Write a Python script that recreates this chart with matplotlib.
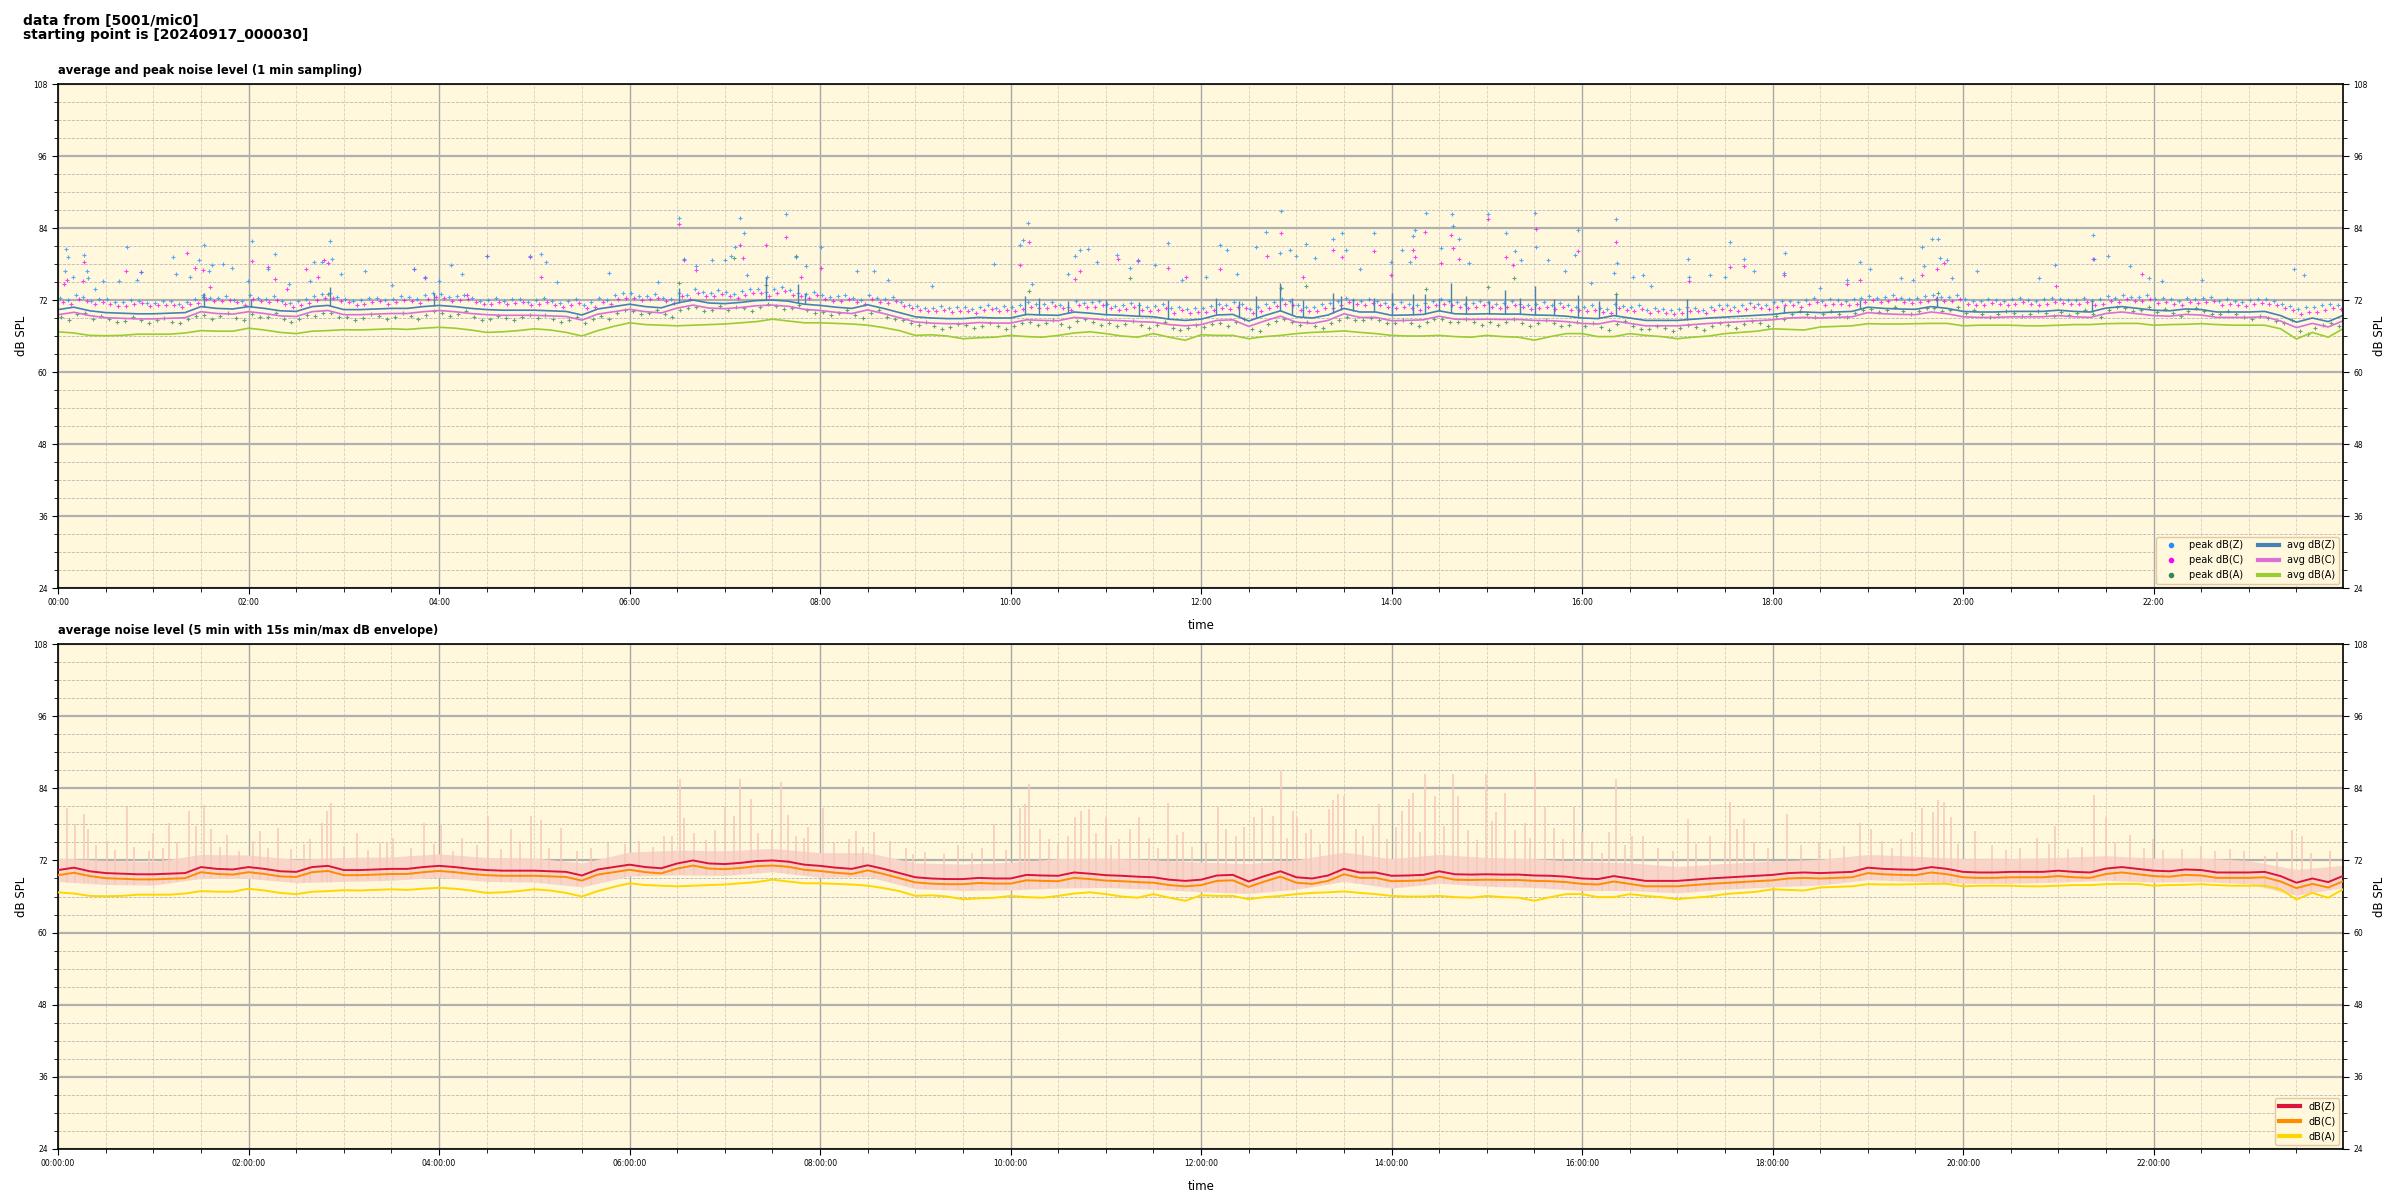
import numpy as np
import pandas as pd
import matplotlib
matplotlib.use('Agg')
import matplotlib.pyplot as plt
import matplotlib.dates as mdates
from matplotlib.ticker import MultipleLocator
from matplotlib.lines import Line2D

# average levels, read every 10 min from 00:00 to 24:00 (one row per hour)
avg_z = [70.4, 70.8, 70.2, 69.9, 69.8, 69.7,
         69.7, 69.8, 69.9, 70.9, 70.6, 70.5,
         70.9, 70.6, 70.2, 70.1, 70.9, 71.1,
         70.4, 70.4, 70.5, 70.6, 70.6, 70.9,
         71.1, 70.9, 70.6, 70.4, 70.3, 70.3,
         70.3, 70.2, 70.1, 69.5, 70.5, 70.9,
         71.3, 70.9, 70.7, 71.5, 72.0, 71.5,
         71.4, 71.6, 71.9, 72.0, 71.8, 71.3,
         71.1, 70.8, 70.6, 71.2, 70.6, 69.9,
         69.2, 69.0, 68.9, 68.9, 69.1, 69.0,
         69.0, 69.6, 69.5, 69.45, 70.0, 69.8,
         69.55, 69.45, 69.3, 69.2, 68.8, 68.6,
         68.8, 69.5, 69.6, 68.5, 69.4, 70.2,
         69.2, 69.0, 69.5, 70.6, 70.0, 70.0,
         69.45, 69.5, 69.6, 70.2, 69.7, 69.65,
         69.7, 69.65, 69.65, 69.5, 69.45, 69.3,
         69.0, 68.9, 69.4, 69.0, 68.6, 68.6,
         68.6, 68.8, 69.0, 69.15, 69.3, 69.45,
         69.6, 69.9, 70.0, 69.9, 70.0, 70.1,
         70.8, 70.6, 70.5, 70.45, 70.9, 70.6,
         70.1, 70.0, 70.0, 70.1, 70.1, 70.1,
         70.3, 70.1, 70.0, 70.65, 70.9, 70.6,
         70.3, 70.2, 70.5, 70.4, 70.0, 70.0,
         70.0, 70.1, 69.4, 68.3, 69.0, 68.4,
         69.5]
avg_c = [69.55, 69.95, 69.4, 69.05, 68.95, 68.85,
         68.85, 68.95, 69.05, 70.05, 69.75, 69.65,
         70.05, 69.75, 69.35, 69.25, 70.05, 70.25,
         69.55, 69.55, 69.65, 69.75, 69.75, 70.05,
         70.25, 70.05, 69.75, 69.55, 69.45, 69.45,
         69.45, 69.35, 69.25, 68.65, 69.65, 70.05,
         70.45, 70.05, 69.85, 70.65, 71.15, 70.65,
         70.55, 70.75, 71.05, 71.15, 70.95, 70.45,
         70.25, 69.95, 69.75, 70.35, 69.75, 69.05,
         68.35, 68.15, 68.05, 68.05, 68.25, 68.15,
         68.15, 68.7, 68.6, 68.55, 69.1, 68.9,
         68.65, 68.55, 68.4, 68.3, 67.9, 67.7,
         67.9, 68.6, 68.7, 67.6, 68.5, 69.3,
         68.3, 68.1, 68.6, 69.7, 69.1, 69.1,
         68.55, 68.6, 68.7, 69.3, 68.8, 68.75,
         68.8, 68.75, 68.75, 68.6, 68.55, 68.4,
         68.1, 68.0, 68.5, 68.1, 67.7, 67.7,
         67.7, 67.9, 68.1, 68.25, 68.4, 68.55,
         68.7, 69.0, 69.1, 69.0, 69.1, 69.2,
         69.9, 69.7, 69.6, 69.55, 70.0, 69.7,
         69.2, 69.1, 69.1, 69.2, 69.2, 69.2,
         69.4, 69.2, 69.1, 69.75, 70.0, 69.7,
         69.4, 69.3, 69.6, 69.5, 69.1, 69.1,
         69.1, 69.2, 68.5, 67.4, 68.1, 67.5,
         68.6]
avg_a = [66.7, 66.5, 66.1, 66.05, 66.1, 66.3,
         66.3, 66.3, 66.5, 66.9, 66.8, 66.8,
         67.3, 67.0, 66.6, 66.4, 66.8, 66.9,
         67.05, 67.0, 67.1, 67.2, 67.1, 67.3,
         67.45, 67.3, 67.0, 66.6, 66.7, 66.9,
         67.2, 67.0, 66.6, 66.0, 66.9, 67.6,
         68.2, 67.9, 67.8, 67.7, 67.8, 67.9,
         68.0, 68.2, 68.4, 68.8, 68.5, 68.2,
         68.2, 68.1, 68.0, 67.8, 67.4, 66.9,
         66.1, 66.2, 66.0, 65.55, 65.7, 65.8,
         66.1, 65.9, 65.8, 66.1, 66.5, 66.7,
         66.4, 66.0, 65.8, 66.4, 65.8, 65.3,
         66.2, 66.1, 66.1, 65.55, 65.9, 66.1,
         66.4, 66.6, 66.7, 66.85, 66.6, 66.4,
         66.1, 66.0, 66.0, 66.1, 65.9, 65.8,
         66.1, 65.9, 65.8, 65.3, 65.9, 66.4,
         66.4, 65.9, 65.9, 66.4, 66.1, 65.9,
         65.55, 65.8, 66.0, 66.4, 66.6, 66.8,
         67.2, 67.1, 67.0, 67.5, 67.6, 67.7,
         68.05, 68.0, 68.0, 68.05, 68.1, 68.1,
         67.7, 67.8, 67.8, 67.8, 67.7, 67.7,
         67.8, 67.9, 67.9, 68.05, 68.1, 68.1,
         67.8, 67.9, 67.95, 68.05, 67.9, 67.8,
         67.8, 67.8, 67.2, 65.5, 66.6, 65.8,
         67.3]

# typical 1 min peaks, two readings in every 10 min from 00:00 to 23:50
peak_z = [72.3, 72.9, 71.8, 72.1, 71.6, 71.9,
          71.5, 71.9, 71.7, 72.8, 72.3, 72.0,
          72.9, 72.2, 71.9, 71.8, 72.6, 73.1,
          72.2, 72.0, 72.4, 72.1, 72.5, 72.8,
          73.0, 72.7, 72.3, 72.0, 71.9, 72.1,
          72.0, 71.8, 71.9, 71.2, 72.4, 72.8,
          73.1, 72.6, 72.4, 73.2, 73.8, 73.2,
          73.3, 73.5, 73.8, 73.9, 73.6, 73.0,
          72.9, 72.6, 72.4, 72.8, 72.1, 71.6,
          71.0, 70.7, 70.6, 70.9, 70.8, 70.7,
          70.9, 71.6, 71.3, 71.2, 71.8, 71.6,
          71.4, 71.2, 71.1, 71.0, 70.6, 70.5,
          70.7, 71.4, 71.6, 70.5, 71.3, 72.1,
          71.1, 70.9, 71.5, 72.4, 71.9, 71.8,
          71.3, 71.4, 71.5, 72.1, 71.6, 71.5,
          71.6, 71.5, 71.4, 71.3, 71.2, 71.1,
          70.8, 70.7, 71.3, 70.9, 70.4, 70.5,
          70.5, 70.7, 70.9, 71.1, 71.2, 71.4,
          71.6, 71.9, 72.0, 71.8, 72.0, 72.1,
          72.7, 72.5, 72.4, 72.3, 72.8, 72.5,
          72.1, 71.9, 72.0, 72.1, 72.0, 72.1,
          72.2, 72.0, 71.9, 72.6, 72.8, 72.5,
          72.2, 72.1, 72.4, 72.3, 71.9, 71.9,
          72.0, 72.1, 71.4, 70.5, 70.8, 71.4]
peak_z_b = [72.0, 72.5, 72.2, 71.7, 72.0, 71.5,
            71.8, 71.4, 72.2, 72.4, 72.6, 71.8,
            72.4, 72.6, 71.5, 72.2, 73.0, 72.5,
            71.8, 72.4, 72.0, 72.6, 72.2, 73.2,
            72.5, 72.9, 71.9, 72.3, 72.2, 71.7,
            72.3, 71.5, 72.2, 71.6, 72.0, 73.1,
            72.7, 73.0, 72.1, 72.8, 73.4, 73.6,
            73.0, 73.8, 73.3, 74.2, 73.2, 73.4,
            72.5, 72.9, 72.0, 72.4, 72.5, 71.2,
            70.7, 71.0, 70.8, 70.5, 71.1, 71.0,
            71.2, 71.3, 71.7, 70.9, 71.5, 71.9,
            71.0, 71.5, 70.8, 71.3, 70.9, 70.7,
            71.0, 71.1, 71.3, 70.8, 71.7, 71.8,
            70.8, 71.3, 71.8, 72.0, 72.2, 71.5,
            71.6, 71.1, 71.8, 71.8, 71.3, 71.8,
            71.3, 71.8, 71.1, 71.6, 71.5, 70.9,
            71.1, 70.5, 71.0, 71.2, 70.7, 70.3,
            70.8, 70.4, 71.2, 70.8, 71.5, 71.2,
            71.9, 71.6, 72.3, 72.1, 71.8, 72.4,
            72.4, 72.8, 72.1, 72.6, 72.5, 72.8,
            71.8, 72.2, 71.8, 72.3, 71.8, 72.3,
            72.0, 72.3, 72.1, 72.4, 72.5, 72.8,
            72.4, 71.9, 72.2, 72.5, 72.1, 71.7,
            72.2, 71.8, 71.0, 70.8, 71.1, 71.2]
peak_c = [71.7, 72.2, 71.4, 71.3, 71.0, 71.5,
          71.1, 71.2, 71.4, 72.2, 71.8, 71.6,
          72.1, 71.7, 71.3, 71.2, 72.0, 72.4,
          71.6, 71.4, 71.8, 71.7, 71.9, 72.1,
          72.3, 72.0, 71.7, 71.4, 71.3, 71.6,
          71.4, 71.2, 71.1, 70.6, 71.7, 72.1,
          72.4, 72.1, 71.9, 72.6, 73.1, 72.6,
          72.6, 72.8, 73.1, 73.2, 72.9, 72.4,
          72.2, 71.9, 71.7, 72.1, 71.5, 71.0,
          70.4, 70.1, 70.0, 70.2, 70.3, 70.1,
          70.2, 70.9, 70.6, 70.6, 71.1, 70.9,
          70.7, 70.5, 70.4, 70.3, 69.9, 69.8,
          70.0, 70.7, 70.9, 69.8, 70.6, 71.3,
          70.4, 70.2, 70.7, 71.6, 71.2, 71.1,
          70.6, 70.7, 70.8, 71.3, 70.9, 70.8,
          70.9, 70.8, 70.8, 70.6, 70.5, 70.4,
          70.2, 70.0, 70.6, 70.2, 69.8, 69.8,
          69.9, 70.1, 70.3, 70.4, 70.5, 70.7,
          70.9, 71.2, 71.3, 71.2, 71.3, 71.4,
          72.0, 71.8, 71.7, 71.6, 72.1, 71.8,
          71.4, 71.2, 71.3, 71.4, 71.3, 71.4,
          71.5, 71.3, 71.2, 71.9, 72.1, 71.8,
          71.5, 71.4, 71.7, 71.6, 71.2, 71.2,
          71.3, 71.4, 70.6, 69.7, 70.0, 70.7]
peak_c_b = [71.4, 71.9, 71.6, 71.0, 71.3, 71.0,
            71.2, 70.9, 71.5, 71.8, 72.0, 71.2,
            71.8, 72.0, 70.9, 71.5, 72.3, 71.9,
            71.2, 71.7, 71.4, 72.0, 71.5, 72.5,
            71.9, 72.2, 71.3, 71.6, 71.5, 71.1,
            71.7, 70.9, 71.5, 70.9, 71.3, 72.4,
            72.0, 72.4, 71.5, 72.1, 72.7, 73.0,
            72.3, 73.1, 72.6, 73.5, 72.6, 72.8,
            71.9, 72.2, 71.4, 71.7, 71.9, 70.6,
            70.1, 70.3, 70.2, 69.9, 70.5, 70.4,
            70.5, 70.7, 71.0, 70.3, 70.8, 71.2,
            70.4, 70.8, 70.2, 70.6, 70.3, 70.0,
            70.3, 70.5, 70.6, 70.1, 71.0, 71.1,
            70.2, 70.6, 71.1, 71.3, 71.5, 70.9,
            70.9, 70.4, 71.1, 71.1, 70.7, 71.1,
            70.7, 71.1, 70.5, 70.9, 70.8, 70.3,
            70.4, 69.9, 70.3, 70.5, 70.1, 69.7,
            70.1, 69.8, 70.5, 70.2, 70.8, 70.5,
            71.2, 70.9, 71.6, 71.4, 71.2, 71.7,
            71.7, 72.1, 71.5, 71.9, 71.8, 72.1,
            71.1, 71.5, 71.1, 71.6, 71.2, 71.6,
            71.4, 71.6, 71.4, 71.7, 71.8, 72.1,
            71.7, 71.2, 71.5, 71.8, 71.4, 71.0,
            71.5, 71.1, 70.3, 70.0, 70.4, 70.5]
peak_a = [69.2, 69.6, 68.8, 68.9, 68.5, 68.7,
          68.6, 68.4, 68.9, 69.5, 69.3, 69.0,
          69.7, 69.2, 68.8, 68.9, 69.4, 69.8,
          69.1, 69.0, 69.3, 69.2, 69.4, 69.5,
          69.8, 69.6, 69.2, 68.9, 69.0, 69.1,
          69.0, 68.8, 68.7, 68.2, 69.4, 69.8,
          70.2, 69.8, 69.6, 70.3, 70.8, 70.4,
          70.4, 70.6, 70.9, 71.0, 70.7, 70.3,
          70.0, 69.8, 69.5, 69.9, 69.2, 68.6,
          67.9, 67.6, 67.5, 67.8, 67.7, 67.6,
          67.7, 68.3, 68.1, 68.0, 68.5, 68.3,
          68.2, 68.0, 67.9, 67.8, 67.4, 67.3,
          67.5, 68.2, 68.3, 67.2, 68.0, 68.8,
          67.9, 67.7, 68.2, 69.1, 68.6, 68.6,
          68.1, 68.2, 68.3, 68.8, 68.4, 68.3,
          68.4, 68.3, 68.2, 68.1, 68.1, 67.9,
          67.6, 67.5, 68.0, 67.7, 67.2, 67.3,
          67.3, 67.5, 67.7, 67.9, 68.0, 68.2,
          69.3, 69.6, 69.7, 69.6, 69.7, 69.8,
          70.5, 70.3, 70.2, 70.1, 70.6, 70.3,
          69.8, 69.7, 69.7, 69.8, 69.7, 69.8,
          70.0, 69.8, 69.7, 70.3, 70.6, 70.3,
          70.0, 69.9, 70.2, 70.1, 69.7, 69.7,
          68.9, 69.0, 68.1, 66.9, 67.3, 68.2]
peak_a_b = [68.6, 69.9, 69.4, 68.3, 69.1, 68.2,
            69.0, 68.1, 69.4, 68.8, 69.8, 68.6,
            69.1, 69.8, 68.3, 69.5, 69.9, 69.2,
            68.6, 69.6, 68.9, 69.8, 68.8, 70.1,
            69.3, 70.1, 68.7, 69.4, 68.6, 69.5,
            69.5, 68.4, 69.2, 68.8, 68.9, 70.3,
            69.7, 70.4, 69.1, 70.7, 70.2, 71.0,
            70.9, 70.2, 71.3, 70.5, 71.2, 69.9,
            69.5, 70.3, 69.0, 70.4, 68.8, 68.1,
            68.4, 67.2, 68.0, 67.3, 68.2, 67.1,
            68.2, 67.8, 68.6, 67.5, 68.9, 67.9,
            67.7, 68.5, 67.4, 68.3, 67.0, 67.8,
            68.0, 67.6, 68.8, 66.8, 68.5, 68.3,
            68.4, 67.3, 68.7, 68.6, 69.0, 68.1,
            68.6, 67.7, 68.8, 68.3, 68.9, 67.8,
            67.9, 68.8, 67.7, 68.6, 67.6, 68.4,
            68.1, 67.0, 68.5, 67.2, 67.7, 66.8,
            67.8, 67.0, 68.2, 67.4, 68.5, 67.7,
            68.8, 70.1, 69.2, 70.1, 69.2, 70.3,
            70.0, 70.8, 69.7, 70.6, 70.1, 70.8,
            70.3, 69.2, 70.2, 69.3, 70.2, 69.3,
            69.5, 70.3, 69.2, 70.8, 70.1, 70.8,
            70.5, 69.4, 70.7, 69.6, 70.2, 69.2,
            69.4, 68.5, 68.6, 66.4, 67.8, 67.7]

# single peaks well above the typical level (hour, dB)
out_z_h = [0.07, 0.08, 0.10, 0.16, 0.27, 0.30, 0.31, 0.39, 0.47, 0.64, 0.72, 0.83, 0.87,
           1.21, 1.24, 1.38, 1.48, 1.53, 1.58, 1.62, 1.73, 1.83, 1.99, 2.04, 2.20, 2.28,
           2.42, 2.64, 2.69, 2.77, 2.86, 2.88, 2.97, 3.22, 3.51, 3.74, 3.85, 4.00, 4.13,
           4.24, 4.50, 4.95, 5.07, 5.12, 5.24, 5.78, 6.30, 6.52, 6.57, 6.70, 6.87, 7.00,
           7.07, 7.11, 7.16, 7.20, 7.23, 7.44, 7.64, 7.75, 7.85, 8.01, 8.39, 8.57, 8.71,
           9.18, 9.83, 10.10, 10.13, 10.18, 10.23, 10.60, 10.68, 10.73, 10.81, 10.91,
           11.12, 11.25, 11.34, 11.52, 11.65, 11.80, 12.05, 12.20, 12.27, 12.38, 12.58,
           12.68, 12.83, 12.84, 12.93, 13.00, 13.10, 13.20, 13.38, 13.48, 13.52, 13.67,
           13.82, 13.99, 14.11, 14.19, 14.22, 14.25, 14.36, 14.52, 14.63, 14.64, 14.71,
           14.81, 15.01, 15.20, 15.30, 15.36, 15.51, 15.52, 15.64, 15.82, 15.93, 15.96,
           16.09, 16.33, 16.36, 16.37, 16.53, 16.64, 16.72, 17.11, 17.12, 17.34, 17.50,
           17.55, 17.70, 17.81, 18.12, 18.13, 18.50, 18.78, 18.92, 19.02, 19.35, 19.47,
           19.57, 19.59, 19.67, 19.74, 19.76, 19.83, 19.88, 20.15, 20.80, 20.97, 21.36,
           21.37, 21.52, 21.75, 21.95, 22.09, 22.51, 23.47, 23.58]
out_z_db = [76.9, 80.45, 79.1, 75.9, 79.5, 76.9, 75.6, 73.9, 75.1, 75.1, 80.8, 75.4, 76.6,
            79.1, 76.3, 75.8, 78.6, 81.1, 76.8, 77.8, 78.0, 77.4, 75.2, 81.8, 77.1, 79.7,
            74.6, 75.2, 78.4, 78.4, 81.8, 78.8, 76.4, 76.9, 74.5, 77.1, 75.8, 75.1, 77.8,
            76.4, 79.4, 79.4, 79.7, 78.4, 75.0, 76.5, 75.0, 85.7, 78.9, 77.6, 78.7, 78.7,
            79.3, 80.9, 85.7, 83.2, 76.2, 75.9, 86.4, 79.2, 77.7, 80.9, 76.9, 76.9, 75.3,
            74.3, 78.0, 81.2, 82.0, 84.8, 74.7, 76.4, 79.4, 80.4, 80.5, 78.3,
            79.5, 77.3, 78.6, 77.9, 81.5, 75.3, 75.9, 81.2, 80.3, 76.3, 80.9,
            83.3, 79.8, 86.9, 80.3, 79.4, 81.3, 79.0, 82.2, 83.1, 80.4, 77.2,
            83.2, 78.4, 80.4, 78.3, 82.6, 83.6, 86.5, 80.7, 86.4, 84.3, 82.1,
            78.1, 86.4, 83.2, 80.2, 78.7, 86.5, 80.8, 78.7, 76.8, 79.5, 83.6,
            74.8, 76.5, 85.5, 78.1, 75.8, 76.2, 74.3, 78.9, 75.8, 76.1, 75.8,
            81.7, 78.9, 76.9, 76.5, 79.8, 74.0, 75.4, 78.3, 77.2, 75.7, 75.3,
            80.9, 77.6, 82.2, 82.1, 79.0, 78.7, 75.7, 76.9, 75.7, 77.9, 82.9,
            78.8, 79.4, 77.7, 75.6, 75.1, 75.3, 77.1, 76.1]
out_c_h = [0.06, 0.09, 0.26, 0.27, 0.71, 0.87, 1.35, 1.44, 1.52, 1.60, 2.04, 2.20, 2.28,
           2.40, 2.60, 2.73, 2.79, 2.83, 3.74, 3.85, 4.29, 4.50, 4.95, 5.07, 6.52, 6.57,
           6.70, 7.16, 7.19, 7.43, 7.64, 7.80, 8.01, 10.10, 10.19, 10.68, 10.73, 11.13,
           11.34, 11.65, 11.84, 12.20, 12.69, 12.84, 13.07, 13.39, 13.48, 13.82, 13.99,
           14.22, 14.25, 14.35, 14.52, 14.62, 14.64, 14.71, 15.01, 15.20, 15.28, 15.52,
           15.96, 16.36, 17.12, 17.55, 17.70, 18.12, 18.78, 18.92, 19.57, 19.73, 19.80,
           20.98, 21.36, 21.88]
out_c_db = [74.6, 75.4, 75.1, 78.3, 76.8, 76.6, 79.9, 77.4, 77.0, 74.1, 78.5, 77.5, 75.5,
            73.9, 77.2, 75.8, 78.7, 78.1, 77.1, 75.6, 72.9, 79.3, 79.2, 75.9, 84.6, 78.7,
            77.0, 81.1, 79.0, 81.2, 82.5, 75.9, 77.3, 77.9, 81.6, 75.5, 76.9, 78.9,
            78.5, 77.3, 75.8, 77.1, 79.3, 83.2, 75.8, 80.4, 79.2, 80.2, 76.1,
            80.4, 79.2, 83.3, 78.2, 82.9, 80.7, 78.9, 85.5, 79.2, 77.9, 83.8,
            80.2, 81.7, 75.1, 77.5, 77.7, 76.1, 74.7, 75.4, 76.2, 77.2, 78.1,
            74.4, 78.9, 76.3]
out_a_h = [1.52, 2.83, 6.52, 7.10, 7.43, 7.75, 10.19, 11.25, 12.84, 13.10, 14.36, 15.01,
           15.29, 16.36, 19.74]
out_a_db = [72.5, 73.0, 74.8, 79.0, 74.5, 79.3, 73.5, 75.7, 74.0, 74.4, 73.8, 74.2,
            75.7, 73.0, 73.2]

# short bursts on the 1 min dB(Z) average
burst_h = [1.53, 2.03, 2.85, 3.95, 6.52, 7.43, 7.77, 7.84, 10.15, 10.30, 10.60, 11.00,
           11.35, 11.65, 12.16, 12.40, 12.58, 12.83, 12.95, 13.07, 13.38, 13.47, 13.60,
           13.82, 14.00, 14.22, 14.35, 14.50, 14.62, 14.78, 15.02, 15.19, 15.35, 15.51,
           15.70, 15.96, 16.18, 16.36, 17.10, 18.12, 18.92, 19.73, 21.35]
burst_db = [73.2, 72.2, 74.2, 73.2, 74.0, 75.9, 74.6, 73.2, 72.6, 72.3, 71.8, 72.0,
            71.7, 72.0, 72.3, 71.9, 72.7, 74.8, 72.4, 72.05, 73.2, 72.6, 72.1,
            72.3, 73.2, 73.05, 73.05, 72.3, 74.8, 72.6, 71.8, 73.7, 72.4, 74.3,
            72.1, 72.8, 71.8, 73.05, 72.2, 71.05, 72.05, 72.6, 72.2]

# 15 s min/max envelope of dB(Z), every 30 min
env_lo = [68.5, 68.0, 67.9, 69.0, 69.0, 68.3, 68.5, 68.7, 69.2, 68.5, 68.4, 67.6,
          69.4, 69.6, 69.5, 70.1, 69.2, 69.3, 67.3, 67.0, 67.1, 67.4, 67.5, 67.2,
          66.8, 66.5, 67.2, 68.5, 67.4, 68.2, 67.7, 67.5, 67.0, 67.0, 66.6, 67.2,
          67.6, 67.9, 68.8, 68.5, 68.2, 68.2, 68.4, 68.7, 68.4, 68.5, 68.1, 66.2, 67.5]
env_hi = [72.4, 72.0, 71.8, 73.0, 72.9, 72.2, 72.5, 72.6, 73.1, 72.5, 72.4, 71.6,
          73.4, 73.7, 73.6, 74.0, 73.3, 73.3, 71.6, 71.4, 71.7, 72.3, 72.4, 72.1,
          71.7, 71.5, 72.1, 73.4, 72.3, 73.0, 72.5, 72.3, 71.8, 71.6, 71.0, 71.5,
          71.9, 72.2, 73.0, 72.7, 72.3, 72.3, 72.5, 72.8, 72.4, 72.4, 72.0, 70.5, 71.2]
# envelope maxima that stick out of the band (hour, dB)
env_peak_h = [0.09, 0.18, 0.27, 0.31, 0.40, 0.51, 0.60, 0.72, 0.80, 0.95, 1.00, 1.10, 1.16,
              1.25, 1.37, 1.45, 1.53, 1.61, 1.70, 1.77, 1.90, 2.05, 2.12, 2.20, 2.31, 2.45,
              2.58, 2.65, 2.77, 2.82, 2.87, 3.00, 3.14, 3.25, 3.38, 3.45, 3.52, 3.70, 3.84,
              3.95, 4.02, 4.15, 4.24, 4.40, 4.51, 4.65, 4.75, 4.85, 4.96, 5.07, 5.15, 5.28,
              5.45, 5.60, 5.77, 5.95, 6.10, 6.25, 6.36, 6.45, 6.53, 6.57, 6.68, 6.80, 6.90,
              7.00, 7.10, 7.16, 7.27, 7.35, 7.50, 7.59, 7.66, 7.75, 7.83, 7.87, 8.03, 8.15,
              8.30, 8.38, 8.45, 8.57, 8.73, 8.90, 8.98, 9.10, 9.30, 9.45, 9.60, 9.70, 9.83,
              9.95, 10.10, 10.15, 10.19, 10.31, 10.40, 10.50, 10.60, 10.68, 10.74, 10.82,
              10.90, 11.00, 11.05, 11.14, 11.25, 11.35, 11.45, 11.55, 11.65, 11.75, 11.81,
              11.90, 12.05, 12.18, 12.26, 12.37, 12.45, 12.56, 12.64, 12.75, 12.84, 12.90,
              12.96, 13.01, 13.10, 13.15, 13.25, 13.34, 13.38, 13.44, 13.50, 13.63, 13.70,
              13.80, 13.87, 13.95, 14.05, 14.11, 14.18, 14.22, 14.30, 14.35, 14.46, 14.55,
              14.64, 14.70, 14.80, 14.90, 14.99, 15.05, 15.10, 15.19, 15.30, 15.40, 15.45,
              15.51, 15.61, 15.70, 15.80, 15.91, 16.00, 16.10, 16.21, 16.28, 16.36, 16.45,
              16.52, 16.64, 16.80, 16.95, 17.11, 17.20, 17.34, 17.50, 17.55, 17.63, 17.70,
              17.80, 17.95, 18.15, 18.30, 18.49, 18.60, 18.75, 18.92, 19.03, 19.15, 19.25,
              19.35, 19.46, 19.57, 19.68, 19.74, 19.80, 19.87, 19.95, 20.13, 20.30, 20.45,
              20.60, 20.78, 20.90, 20.97, 21.10, 21.25, 21.37, 21.50, 21.60, 21.75, 21.90,
              21.99, 22.10, 22.30, 22.50, 22.65, 22.80, 22.95, 23.17, 23.30, 23.45, 23.56,
              23.65, 23.85]
env_peak_db = [80.8, 78.0, 79.7, 77.2, 74.5, 75.2, 73.8, 80.9, 74.2, 73.5, 76.6, 74.0, 78.3,
               75.0, 80.2, 77.7, 81.2, 77.2, 74.3, 76.3, 73.6, 75.2, 76.9, 74.1, 77.4, 73.9,
               74.7, 75.5, 78.3, 80.2, 81.6, 74.4, 76.6, 73.7, 74.9, 75.1, 75.8, 74.0, 78.3,
               74.8, 78.0, 73.5, 75.8, 74.6, 79.4, 73.9, 77.2, 75.3, 79.4, 78.8, 74.1, 77.4,
               73.6, 74.0, 74.9, 74.7, 75.2, 74.3, 76.1, 76.0, 85.5, 79.0, 76.6, 75.4, 77.0,
               81.0, 79.4, 85.5, 82.2, 76.5, 77.3, 85.0, 79.5, 76.0, 75.8, 77.5, 80.8, 74.9,
               75.5, 76.9, 74.2, 76.7, 75.3, 74.0, 73.1, 73.4, 73.0, 74.6, 73.2, 74.0, 78.1,
               73.8, 80.8, 81.4, 84.7, 77.2, 75.5, 74.8, 76.1, 79.2, 80.3, 80.6,
               76.5, 79.2, 74.5, 75.6, 77.2, 79.2, 75.8, 74.0, 81.6, 76.2, 76.7,
               74.3, 75.0, 81.0, 77.2, 76.1, 77.5, 79.3, 80.8, 79.4, 86.8, 75.8,
               80.3, 79.2, 76.5, 77.2, 74.7, 80.6, 82.1, 83.1, 82.8, 77.2, 76.0,
               78.0, 81.4, 75.5, 77.5, 80.3, 82.2, 83.3, 76.8, 86.4, 82.8, 77.8,
               86.4, 82.8, 77.0, 75.4, 86.4, 78.5, 80.0, 83.3, 77.0, 78.3, 75.8,
               86.7, 81.1, 77.4, 75.6, 81.1, 76.7, 74.9, 73.3, 76.7, 85.6, 74.5,
               76.1, 76.1, 74.0, 73.6, 78.9, 74.8, 76.1, 75.3, 81.7, 77.2, 78.9,
               75.1, 74.0, 79.7, 74.6, 75.0, 73.9, 74.4, 78.3, 77.2, 75.2, 74.0,
               75.6, 76.7, 80.8, 80.0, 82.1, 81.7, 79.2, 74.8, 76.9, 74.5, 73.8,
               74.0, 75.7, 74.7, 77.8, 73.9, 74.3, 82.9, 79.3, 75.0, 76.3, 74.1,
               75.6, 73.7, 73.9, 74.4, 73.6, 73.9, 73.5, 72.8, 73.4, 77.1, 76.0,
               73.2, 73.5]

t0 = pd.Timestamp('2024-09-17 00:00:00')


def to_time(hours):
    return t0 + pd.to_timedelta(np.asarray(hours, dtype=float), unit='h')


h10 = np.arange(len(avg_z)) / 6.0
h30 = np.arange(len(env_lo)) / 2.0
hp = np.arange(len(peak_z)) / 6.0

bg = 'cornsilk'

fig = plt.figure(figsize=(24, 12), dpi=100)
fig.text(0.0096, 0.988, 'data from [5001/mic0]\nstarting point is [20240917_000030]',
         ha='left', va='top', fontsize=10, fontweight='bold', linespacing=1.0)

ax1 = fig.add_axes([0.0242, 0.51, 0.9521, 0.42])
ax2 = fig.add_axes([0.0242, 0.0425, 0.9521, 0.4208])


def style_axes(ax, fmt):
    ax.set_facecolor(bg)
    ax.set_axisbelow(True)
    ax.set_ylim(24, 108)
    ax.set_xlim(to_time(0), to_time(23.99))
    ax.yaxis.set_major_locator(MultipleLocator(12))
    ax.yaxis.set_minor_locator(MultipleLocator(3))
    ax.xaxis.set_major_locator(mdates.HourLocator(interval=2))
    ax.xaxis.set_minor_locator(mdates.MinuteLocator(byminute=[0, 30]))
    ax.xaxis.set_major_formatter(mdates.DateFormatter(fmt))
    ax.xaxis.grid(True, which='major', color='#a8a8a8', lw=1.0)
    ax.yaxis.grid(True, which='major', color='#b0b0b0', lw=1.6)
    ax.xaxis.grid(True, which='minor', color='#d6cfbd', ls='--', lw=0.6)
    ax.yaxis.grid(True, which='minor', color='#b8b8b8', ls='--', lw=0.6)
    ax.tick_params(which='both', labelsize=5.5, direction='out')
    ax.tick_params(which='major', length=4)
    ax.tick_params(which='minor', length=3)
    for s in ax.spines.values():
        s.set_linewidth(1.2)
    ax.set_ylabel('dB SPL', fontsize=8.5)
    ax.set_xlabel('time', fontsize=8.5, labelpad=8)
    tw = ax.twinx()
    tw.set_ylim(24, 108)
    tw.yaxis.set_major_locator(MultipleLocator(12))
    tw.yaxis.set_minor_locator(MultipleLocator(3))
    tw.tick_params(which='both', labelsize=5.5)
    tw.tick_params(which='major', length=4)
    tw.tick_params(which='minor', length=3)
    tw.set_ylabel('dB SPL', fontsize=8.5)
    for s in tw.spines.values():
        s.set_visible(False)


# top: 1 min averages and peaks
style_axes(ax1, '%H:%M')
ax1.set_title('average and peak noise level (1 min sampling)', loc='left',
              fontsize=8.3, fontweight='bold', pad=7)
mk = dict(ls='none', marker='+', ms=3, mew=0.8, alpha=0.75)
ax1.plot(to_time(hp + 2 / 60), peak_a, color='#2E8B57', **mk)
ax1.plot(to_time(hp + 7 / 60), peak_a_b, color='#2E8B57', **mk)
ax1.plot(to_time(out_a_h), out_a_db, color='#2E8B57', **mk)
ax1.plot(to_time(hp + 3 / 60), peak_c, color='#FF00FF', **mk)
ax1.plot(to_time(hp + 8 / 60), peak_c_b, color='#FF00FF', **mk)
ax1.plot(to_time(out_c_h), out_c_db, color='#FF00FF', **mk)
ax1.plot(to_time(hp + 1 / 60), peak_z, color='#1E90FF', **mk)
ax1.plot(to_time(hp + 6 / 60), peak_z_b, color='#1E90FF', **mk)
ax1.plot(to_time(out_z_h), out_z_db, color='#1E90FF', **mk)
ax1.plot(to_time(h10), avg_a, color='yellowgreen', lw=1.2)
ax1.plot(to_time(h10), avg_c, color='orchid', lw=1.2)
ax1.plot(to_time(h10), avg_z, color='steelblue', lw=1.2)
ax1.vlines(to_time(burst_h), np.interp(burst_h, h10, avg_z), burst_db,
           color='steelblue', lw=1.0)

handles = [Line2D([], [], ls='none', marker='o', ms=3, color='#1E90FF'),
           Line2D([], [], ls='none', marker='o', ms=3, color='#FF00FF'),
           Line2D([], [], ls='none', marker='o', ms=3, color='#2E8B57'),
           Line2D([], [], color='steelblue', lw=3),
           Line2D([], [], color='orchid', lw=3),
           Line2D([], [], color='yellowgreen', lw=3)]
labels = ['peak dB(Z)', 'peak dB(C)', 'peak dB(A)', 'avg dB(Z)', 'avg dB(C)', 'avg dB(A)']
ax1.legend(handles, labels, ncol=2, loc='lower right', fontsize=7,
           frameon=True, facecolor=bg, edgecolor='#e3c9a0', framealpha=1,
           borderaxespad=0.4, handlelength=2.2, columnspacing=1.5)

# bottom: 5 min averages with envelope
style_axes(ax2, '%H:%M:%S')
ax2.set_title('average noise level (5 min with 15s min/max dB envelope)', loc='left',
              fontsize=8.3, fontweight='bold', pad=7)
ax2.fill_between(to_time(h30), env_lo, env_hi, color='#f8d5c8', lw=0, zorder=2)
ax2.vlines(to_time(env_peak_h), np.interp(env_peak_h, h30, env_lo), env_peak_db,
           color='#f5c8b8', lw=1.1, zorder=2)
ax2.plot(to_time(h10), avg_a, color='gold', lw=1.4, zorder=3)
ax2.plot(to_time(h10), avg_c, color='darkorange', lw=1.4, zorder=3)
ax2.plot(to_time(h10), avg_z, color='crimson', lw=1.4, zorder=3)

handles2 = [Line2D([], [], color='crimson', lw=3),
            Line2D([], [], color='darkorange', lw=3),
            Line2D([], [], color='gold', lw=3)]
ax2.legend(handles2, ['dB(Z)', 'dB(C)', 'dB(A)'], loc='lower right', fontsize=7,
           frameon=True, facecolor=bg, edgecolor='#e3c9a0', framealpha=1,
           borderaxespad=0.4, handlelength=2.2)

fig.savefig('out.png', dpi=100)
